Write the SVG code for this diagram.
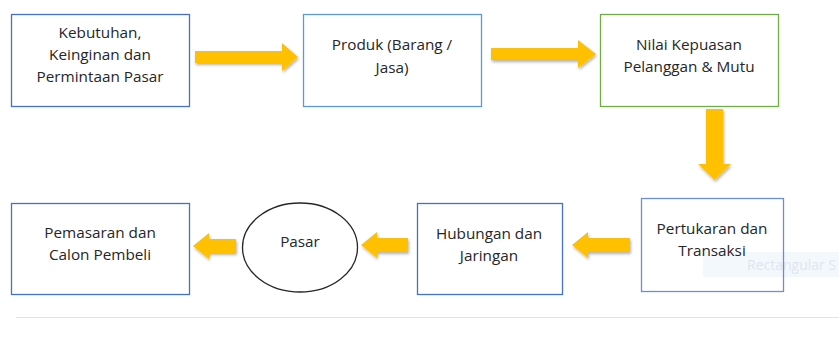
<svg xmlns="http://www.w3.org/2000/svg" width="839" height="358" viewBox="0 0 839 358">
<style>
.box{fill:#fff;stroke:#4472c4;stroke-width:1.3}
.lb{stroke:#5b9bd5}
.gb{stroke:#70ad47}
.pb{stroke:#6a8fd8;fill:none}
.t{font-family:"Open Sans","Liberation Sans",sans-serif;font-size:15.3px;fill:#262626;text-anchor:middle}
.arr{fill:#ffc000;filter:url(#sh)}
</style>
<defs>
<filter id="sh" x="-20%" y="-30%" width="140%" height="160%">
<feDropShadow dx="1" dy="2" stdDeviation="1.5" flood-color="#000" flood-opacity="0.3"/>
</filter>
</defs>
<rect x="0" y="0" width="839" height="358" fill="#fff"/>
<rect x="703" y="252" width="136" height="25" fill="#f3f8fd"/>
<text x="747" y="270" font-family="Open Sans, sans-serif" font-size="14" fill="#dde6ef">Rectangular S</text>
<g id="n1"><rect class="box" x="11.5" y="14.5" width="178" height="92"/>
<text class="t" x="100" y="38">Kebutuhan,</text><text class="t" x="100" y="60">Keinginan dan</text><text class="t" x="100" y="82">Permintaan Pasar</text></g>
<g id="n2"><rect class="box lb" x="303.5" y="14.5" width="178" height="92"/>
<text class="t" x="392" y="50">Produk (Barang /</text><text class="t" x="392" y="73">Jasa)</text></g>
<g id="n3"><rect class="box gb" x="600.5" y="14.5" width="178" height="92"/>
<text class="t" x="689" y="50">Nilai Kepuasan</text><text class="t" x="689" y="72">Pelanggan &amp; Mutu</text></g>
<g id="n4"><rect class="box pb" x="641.5" y="198.5" width="142" height="93"/>
<text class="t" x="712" y="234">Pertukaran dan</text><text class="t" x="712" y="256">Transaksi</text></g>
<g id="n5"><rect class="box" x="417.5" y="203.5" width="145" height="91"/>
<text class="t" x="489" y="239">Hubungan dan</text><text class="t" x="489" y="261">Jaringan</text></g>
<g id="n6"><ellipse cx="300" cy="247.5" rx="57.5" ry="44.5" fill="#fff" stroke="#262626" stroke-width="1.3"/>
<text class="t" x="300" y="247">Pasar</text></g>
<g id="n7"><rect class="box" x="11.5" y="203.5" width="178" height="91"/>
<text class="t" x="100" y="238">Pemasaran dan</text><text class="t" x="100" y="260">Calon Pembeli</text></g>
<g id="connectors">
<polygon class="arr" points="195,51 282,51 282,43 298,57 282,71 282,63 195,63"/>
<polygon class="arr" points="491,48 578,48 578,40 596,54 578,68 578,60 491,60"/>
<polygon class="arr" points="706,109 723,109 723,164 731,164 714.5,180 698,164 706,164"/>
<polygon class="arr" points="630,238 588,238 588,232 572,245 588,258 588,252 630,252"/>
<polygon class="arr" points="408,238 377,238 377,232 361,245 377,258 377,252 408,252"/>
<polygon class="arr" points="236,239 209,239 209,233 193,246 209,259 209,253 236,253"/>
</g>
<line x1="16" y1="317.5" x2="839" y2="317.5" stroke="#e3e3e3" stroke-width="1"/>
</svg>
